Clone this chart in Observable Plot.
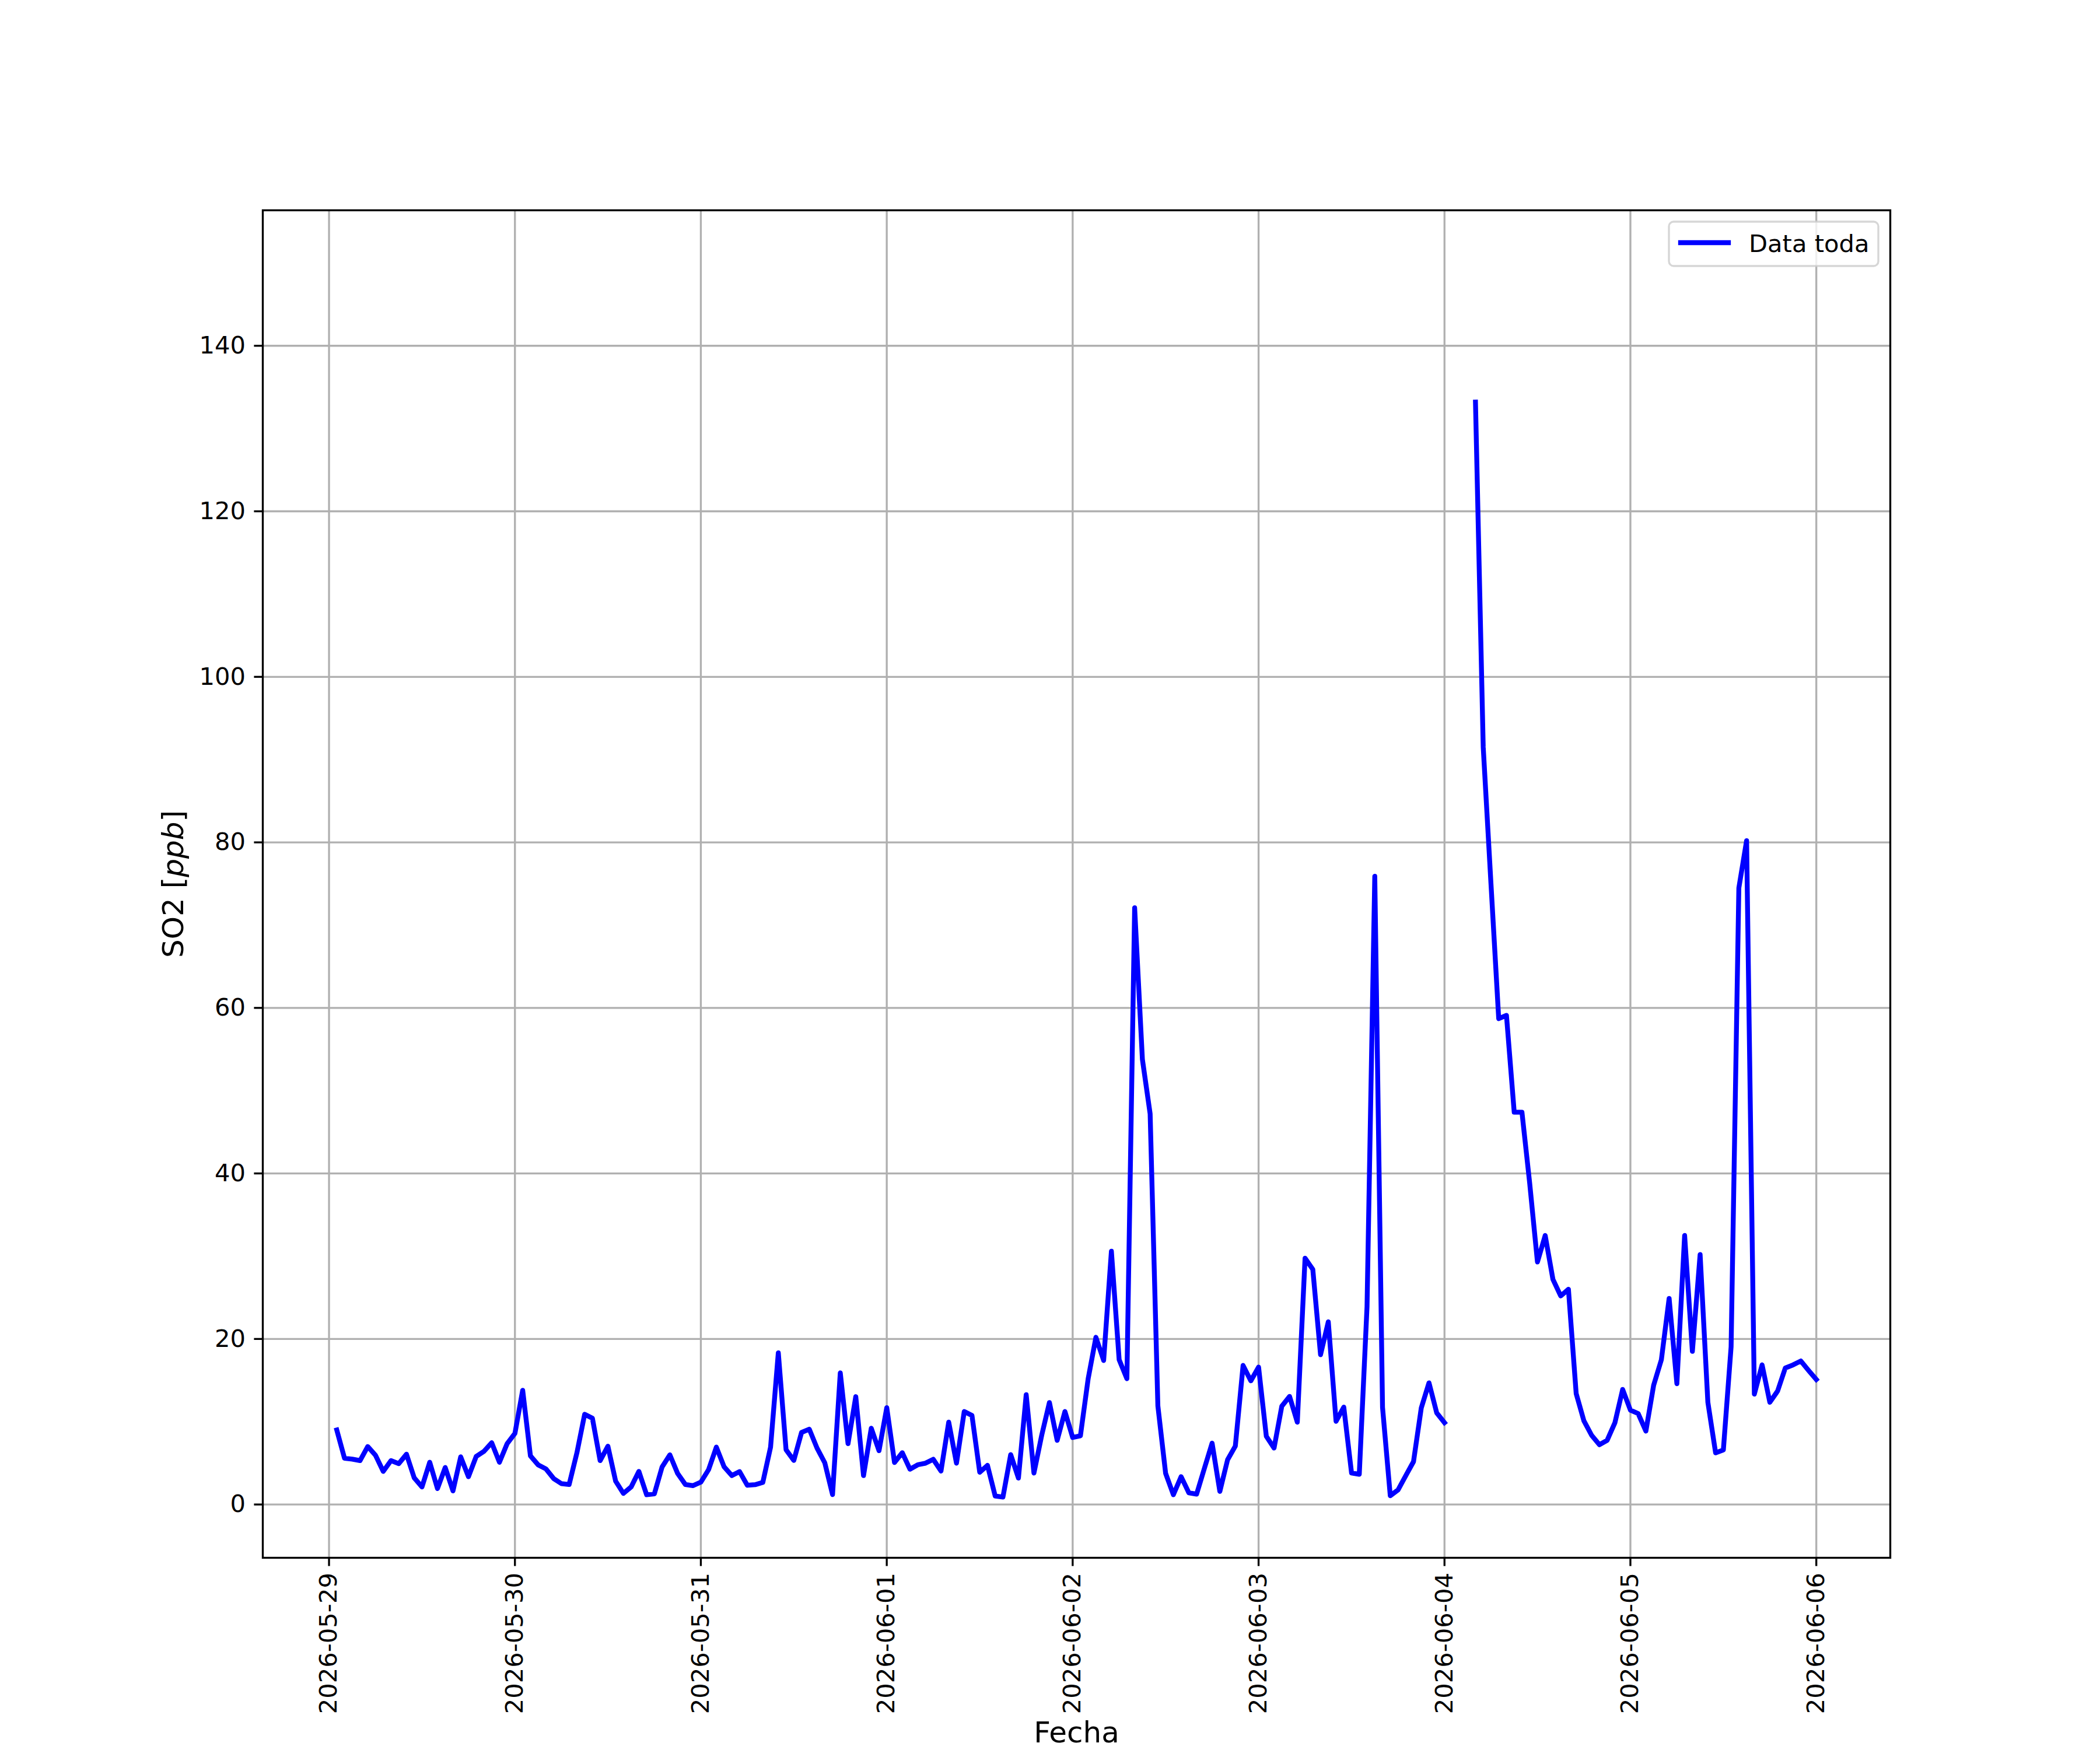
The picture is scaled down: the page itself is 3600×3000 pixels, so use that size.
<!DOCTYPE html>
<html>
<head>
<meta charset="utf-8">
<script src="https://cdn.jsdelivr.net/npm/d3@7"></script>
<script src="https://cdn.jsdelivr.net/npm/@observablehq/plot@0.6"></script>
<style>
  html, body { margin: 0; padding: 0; background: white; }
  #wrap { position: relative; width: 3600px; height: 3000px; font-family: "DejaVu Sans", sans-serif; }
  #legend { position: absolute; left: 0; top: 0; pointer-events: none; }
</style>
</head>
<body>
<div id="wrap"></div>
<script>
// ---------------- data ----------------
const seriesName = "Data toda";
const xLabel = "Fecha";
const yLabelPlain = "SO2 [";
const yLabelItalic = "ppb";
const yLabelEnd = "]";
const tickLabels = ["2026-05-29","2026-05-30","2026-05-31","2026-06-01","2026-06-02","2026-06-03","2026-06-04","2026-06-05","2026-06-06"];
const yTicks = [0, 20, 40, 60, 80, 100, 120, 140];
const firstHour = "2026-05-29T01:00:00Z"; // hourly readings from here on
const so2Day1 = [9.0, 5.58, 5.48, 5.3, 7.0, 5.95, 4.0, 5.3, 4.94, 6.07, 3.22, 2.12, 5.1, 1.93, 4.47, 1.65, 5.76, 3.36, 5.81, 6.42, 7.46, 5.1, 7.36, 8.59];
const so2Day2 = [13.8, 5.88, 4.78, 4.3, 3.13, 2.52, 2.42, 6.24, 10.9, 10.42, 5.3, 7.04, 2.82, 1.34, 2.12, 4.0, 1.18, 1.29, 4.54, 6.0, 3.76, 2.42, 2.28, 2.7];
const so2Day3 = [4.21, 6.93, 4.56, 3.5, 3.97, 2.32, 2.39, 2.67, 6.93, 18.32, 6.62, 5.32, 8.7, 9.1, 6.81, 5.04, 1.2, 15.9, 7.35, 13.03, 3.5, 9.22, 6.5, 11.7];
const so2Day4 = [5.08, 6.26, 4.26, 4.8, 4.99, 5.46, 4.04, 9.95, 4.99, 11.23, 10.76, 3.9, 4.73, 1.02, 0.9, 6.03, 3.19, 13.26, 3.8, 8.35, 12.32, 7.75, 11.23, 8.1];
const so2Day5 = [8.3, 15.2, 20.2, 17.4, 30.6, 17.5, 15.2, 72.1, 53.8, 47.2, 11.9, 3.76, 1.18, 3.36, 1.41, 1.25, 4.35, 7.41, 1.58, 5.41, 7.06, 16.8, 14.94, 16.6];
const so2Day6 = [8.24, 6.82, 11.88, 13.06, 9.95, 29.76, 28.4, 18.1, 22.07, 10.05, 11.76, 3.81, 3.65, 23.9, 75.9, 11.76, 1.06, 1.76, 3.48, 5.18, 11.65, 14.7, 11.06, 9.88];
const so2Day7 = [null, null, null, 133.2, 91.5, 75.0, 58.7, 59.1, 47.4, 47.4, 38.8, 29.3, 32.5, 27.2, 25.2, 26.0, 13.4, 10.1, 8.35, 7.22, 7.76, 9.88, 13.9, 11.4];
const so2Day8 = [10.99, 8.87, 14.4, 17.5, 24.9, 14.6, 32.5, 18.5, 30.2, 12.35, 6.24, 6.59, 19.06, 74.5, 80.2, 13.34, 16.87, 12.35, 13.7, 16.5, 16.87, 17.34, 16.2, 15.1];

// ---------------- build table ----------------
const so2 = [].concat(so2Day1, so2Day2, so2Day3, so2Day4, so2Day5, so2Day6, so2Day7, so2Day8);
const t0 = Date.parse(firstHour);
const table = so2.map((v, i) => ({date: new Date(t0 + i * 3600e3), value: v}));
const tickDates = tickLabels.map(s => new Date(s + "T00:00:00Z"));

const W = 3600, H = 3000;
const mL = 450, mR = 360, mT = 360, mB = 330;
const lw = 8.33, thin = 3.33;
const xDomain = [new Date(t0 - 9.55 * 3600e3), new Date(Date.parse(tickLabels[tickLabels.length - 1] + "T00:00:00Z") + 9.55 * 3600e3)];
const yDomain = [-6.44, 156.37];

const chart = Plot.plot({
  width: W, height: H,
  marginLeft: mL, marginRight: mR, marginTop: mT, marginBottom: mB,
  style: {fontFamily: "DejaVu Sans", fontSize: "41.67px", background: "white", color: "black", overflow: "visible"},
  x: {type: "utc", domain: xDomain},
  y: {domain: yDomain},
  marks: [
    Plot.gridX(tickDates, {stroke: "#b0b0b0", strokeOpacity: 1, strokeWidth: thin}),
    Plot.gridY(yTicks, {stroke: "#b0b0b0", strokeOpacity: 1, strokeWidth: thin}),
    Plot.line(table, {x: "date", y: "value", stroke: "#0000ff", strokeWidth: lw, strokeLinejoin: "round", strokeLinecap: "square"}),
    Plot.frame({stroke: "black", strokeWidth: thin}),
    Plot.axisX(tickDates, {
      tickFormat: d3.utcFormat("%Y-%m-%d"), tickRotate: -90, tickSize: 14.6, tickPadding: 11,
      strokeWidth: thin, fontSize: 41.67,
      label: xLabel, labelAnchor: "center", labelArrow: "none", labelOffset: 316
    }),
    Plot.axisY(yTicks, {
      tickSize: 14.6, tickPadding: 15, strokeWidth: thin, fontSize: 41.67,
      label: yLabelPlain + yLabelItalic + yLabelEnd, labelAnchor: "center", labelArrow: "none", labelOffset: 172
    })
  ]
});

document.getElementById("wrap").appendChild(chart);

// Axis label styling (size 12pt, italic unit)
const svgNS = "http://www.w3.org/2000/svg";
const xl = chart.querySelector('[aria-label="x-axis label"] text');
if (xl) { xl.textContent = xLabel; xl.setAttribute("font-size", "50"); }
const yl = chart.querySelector('[aria-label="y-axis label"] text');
if (yl) {
  yl.textContent = "";
  yl.setAttribute("font-size", "50");
  const a = document.createElementNS(svgNS, "tspan"); a.textContent = yLabelPlain;
  const b = document.createElementNS(svgNS, "tspan"); b.textContent = yLabelItalic; b.setAttribute("font-style", "italic");
  const c = document.createElementNS(svgNS, "tspan"); c.textContent = yLabelEnd;
  yl.append(a, b, c);
}

// Legend (upper right, inside the axes)
const lg = d3.select("#wrap").append("svg").attr("id", "legend").attr("width", W).attr("height", H);
const lx = 2861, ly = 380, lwid = 359, lh = 76;
lg.append("rect").attr("x", lx).attr("y", ly).attr("width", lwid).attr("height", lh).attr("rx", 8)
  .attr("fill", "white").attr("fill-opacity", 0.8).attr("stroke", "#cccccc").attr("stroke-opacity", 0.8).attr("stroke-width", thin);
lg.append("line").attr("x1", lx + 20).attr("x2", lx + 102).attr("y1", ly + 36).attr("y2", ly + 36)
  .attr("stroke", "#0000ff").attr("stroke-width", lw).attr("stroke-linecap", "square");
lg.append("text").attr("x", lx + 137).attr("y", ly + 52).attr("font-family", "DejaVu Sans").attr("font-size", 41.67).attr("fill", "black").text(seriesName);
</script>
</body>
</html>
